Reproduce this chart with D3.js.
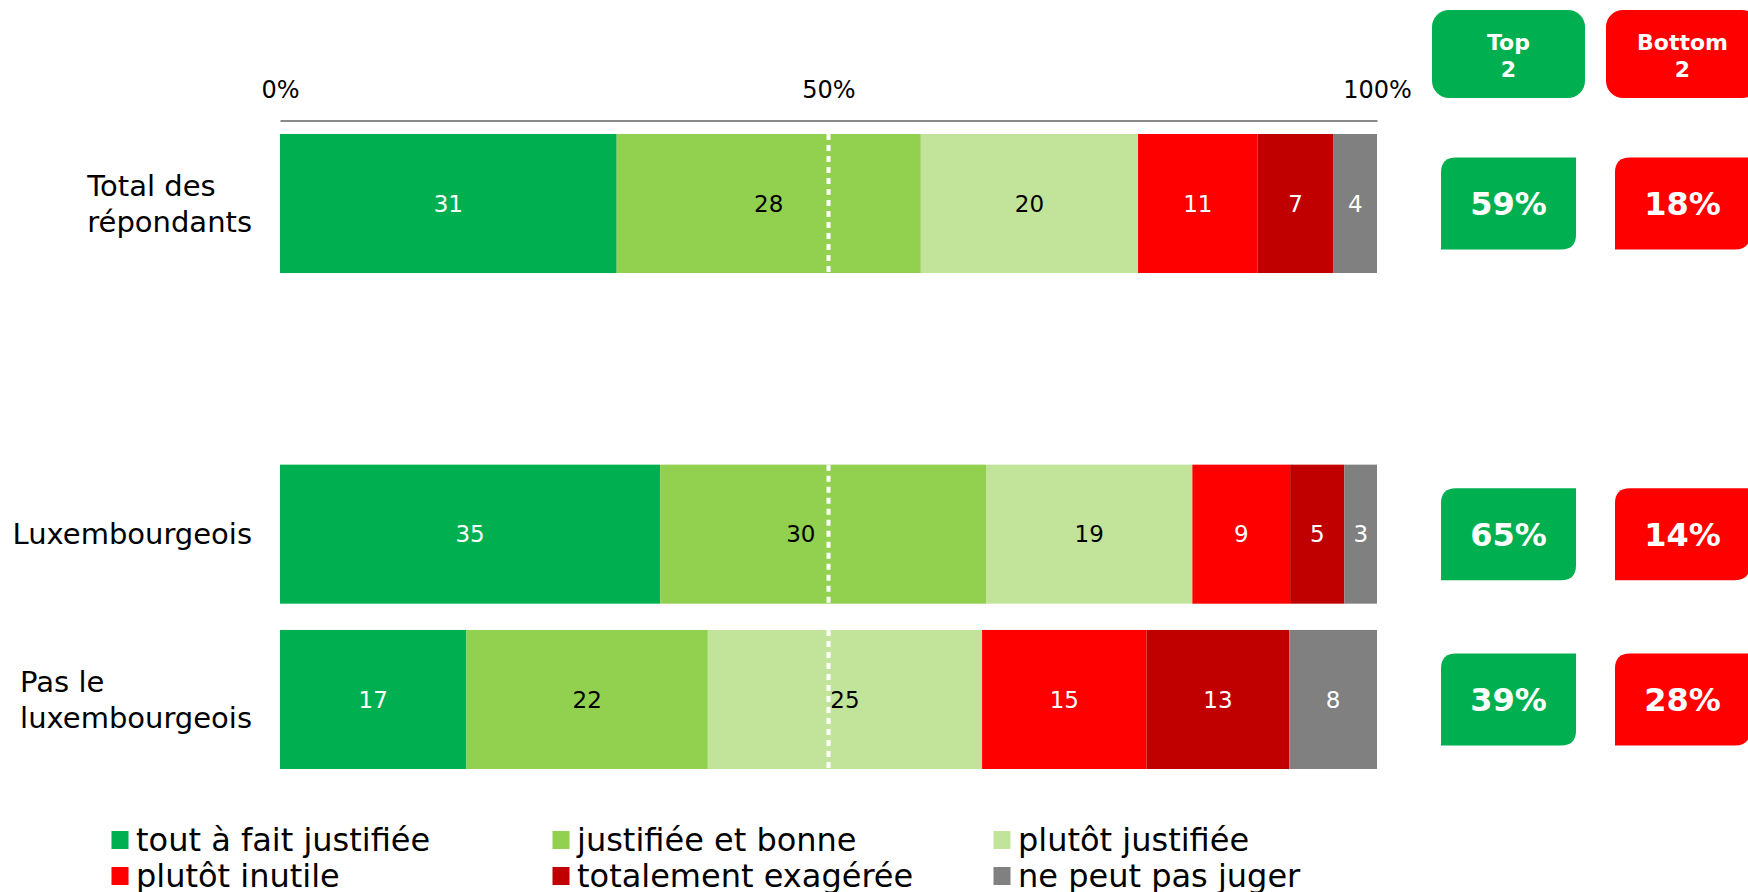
<!DOCTYPE html>
<html><head><meta charset="utf-8">
<script src="https://cdn.jsdelivr.net/npm/d3@7"></script>
<style>html,body{margin:0;padding:0;background:#fff;} svg{display:block;font-family:"DejaVu Sans",Verdana,sans-serif;}</style>
</head><body>
<svg id="chart" width="1748" height="892"></svg>
<script>
// ---------- data ----------
const categories = ["Total des\nrépondants", "", "Luxembourgeois", "Pas le\nluxembourgeois"];
const seriesNames = ["tout à fait justifiée", "justifiée et bonne", "plutôt justifiée",
                     "plutôt inutile", "totalement exagérée", "ne peut pas juger"];
const seriesColors = ["#00B050", "#92D050", "#C2E49A", "#FF0000", "#C00000", "#808080"];
const labelColors  = ["#ffffff", "#000000", "#000000", "#ffffff", "#ffffff", "#ffffff"];
const toutAFaitJustifiee  = [31, null, 35, 17];
const justifieeEtBonne    = [28, null, 30, 22];
const plutotJustifiee     = [20, null, 19, 25];
const plutotInutile       = [11, null, 9, 15];
const totalementExageree  = [7, null, 5, 13];
const nePeutPasJuger      = [4, null, 3, 8];
const top2Values    = [59, null, 65, 39];
const bottom2Values = [18, null, 14, 28];
const summaryHeaders = ["Top\n2", "Bottom\n2"];
const summaryColors = ["#00B050", "#FF0000"];
const tickValues = [0, 0.5, 1];

const seriesValues = [toutAFaitJustifiee, justifieeEtBonne, plutotJustifiee,
                      plutotInutile, totalementExageree, nePeutPasJuger];
const keys = seriesNames;

// ---------- build ----------
const svg = d3.select("#chart");
const x = d3.scaleLinear().domain([0, 1]).range([280, 1377]);
const y = d3.scaleBand().domain(d3.range(categories.length)).range([134, 769])
            .paddingInner(0.159).paddingOuter(0);
const bw = y.bandwidth();

const rows = d3.range(categories.length)
  .filter(i => toutAFaitJustifiee[i] != null)
  .map(i => { const o = {idx: i}; keys.forEach((k, s) => o[k] = seriesValues[s][i]); return o; });

const stacked = d3.stack().keys(keys).offset(d3.stackOffsetExpand)(rows);

// bars
const gBars = svg.append("g");
stacked.forEach((layer, s) => {
  gBars.selectAll(null).data(layer).join("rect")
    .attr("x", d => x(d[0]))
    .attr("y", d => y(d.data.idx))
    .attr("width", d => x(d[1]) - x(d[0]))
    .attr("height", bw)
    .attr("fill", seriesColors[s]);
});

// 50% dotted line
svg.append("g").selectAll("line").data(rows).join("line")
  .attr("x1", x(0.5)).attr("x2", x(0.5))
  .attr("y1", d => y(d.idx)).attr("y2", d => y(d.idx) + bw)
  .attr("stroke", "#fff").attr("stroke-width", 4).attr("stroke-dasharray", "6,5");

// value labels
const gLab = svg.append("g");
stacked.forEach((layer, s) => {
  gLab.selectAll(null).data(layer).join("text")
    .attr("x", d => (x(d[0]) + x(d[1])) / 2)
    .attr("y", d => y(d.data.idx) + bw / 2)
    .attr("dy", "0.35em")
    .attr("text-anchor", "middle")
    .attr("font-size", 23)
    .attr("fill", labelColors[s])
    .text(d => d.data[layer.key])
    .each(function() {
      const t = d3.select(this);
      const w = this.getComputedTextLength();
      const cx = +t.attr("x");
      const mid = x(0.5);
      if (Math.abs(cx - mid) < w / 2) t.attr("x", mid - w / 2 - 13);
    });
});

// axis
const gAxis = svg.append("g").attr("transform", "translate(0,120.5)")
  .call(d3.axisTop(x).tickValues(tickValues).tickFormat(d3.format(".0%"))
        .tickSize(0).tickSizeOuter(0).tickPadding(23));
gAxis.attr("font-family", null).attr("font-size", null);
gAxis.select(".domain").attr("stroke", "#898989").attr("stroke-width", 2);
gAxis.selectAll("text").attr("font-size", 24).attr("fill", "#000");

// category labels
const gCat = svg.append("g");
categories.forEach((c, i) => {
  if (!c) return;
  const lines = c.split("\n");
  const cy = y(i) + bw / 2;
  const lh = 36;
  const t = gCat.append("text").attr("font-size", 29).attr("fill", "#000");
  const spans = lines.map((ln, k) => t.append("tspan")
      .attr("x", 0).attr("y", cy - (lines.length - 1) * lh / 2 + k * lh)
      .attr("dy", "0.35em").text(ln));
  let maxW = 0;
  spans.forEach(sp => { maxW = Math.max(maxW, sp.node().getComputedTextLength()); });
  spans.forEach(sp => sp.attr("x", 252 - maxW));
});

// summary columns
const sx = d3.scaleBand().domain(d3.range(summaryHeaders.length)).range([1441, 1750])
             .paddingInner(0.224).paddingOuter(0);
const boxW = sx.bandwidth(), boxH = 92, r = 15;
function boxPath(x0, y0, w, h, r) {
  return `M${x0},${y0 + r} Q${x0},${y0} ${x0 + r},${y0} L${x0 + w},${y0} L${x0 + w},${y0 + h - r}` +
         ` Q${x0 + w},${y0 + h} ${x0 + w - r},${y0 + h} L${x0},${y0 + h} Z`;
}
// headers
summaryHeaders.forEach((h, j) => {
  const cx = sx(j) + boxW / 2;
  const hw = 153, hh = 88;
  svg.append("rect").attr("x", cx - hw / 2).attr("y", 10).attr("width", hw).attr("height", hh)
    .attr("rx", 17).attr("fill", summaryColors[j]);
  const t = svg.append("text").attr("text-anchor", "middle").attr("font-size", 22)
    .attr("font-weight", "bold").attr("fill", "#fff");
  h.split("\n").forEach((ln, k) => t.append("tspan").attr("x", cx).attr("y", 50 + k * 27).text(ln));
});
// value boxes
[top2Values, bottom2Values].forEach((vals, j) => {
  const g = svg.append("g");
  const data = d3.range(categories.length).filter(i => vals[i] != null);
  g.selectAll("path").data(data).join("path")
    .attr("d", i => boxPath(sx(j), y(i) + bw / 2 - boxH / 2, boxW, boxH, r))
    .attr("fill", summaryColors[j]);
  g.selectAll("text").data(data).join("text")
    .attr("x", sx(j) + boxW / 2).attr("y", i => y(i) + bw / 2).attr("dy", "0.36em")
    .attr("text-anchor", "middle").attr("font-size", 32).attr("font-weight", "bold")
    .attr("fill", "#fff").text(i => vals[i] + "%");
});

// legend
const gLeg = svg.append("g");
seriesNames.forEach((n, s) => {
  const col = s % 3, row = Math.floor(s / 3);
  const lx = 111.5 + col * 441, ly = 840 + row * 36;
  gLeg.append("rect").attr("x", lx).attr("y", ly - 9).attr("width", 17).attr("height", 18)
    .attr("fill", seriesColors[s]);
  gLeg.append("text").attr("x", lx + 24.5).attr("y", ly).attr("dy", "0.35em")
    .attr("font-size", 32).attr("fill", "#000").text(n);
});
</script>
</body></html>
